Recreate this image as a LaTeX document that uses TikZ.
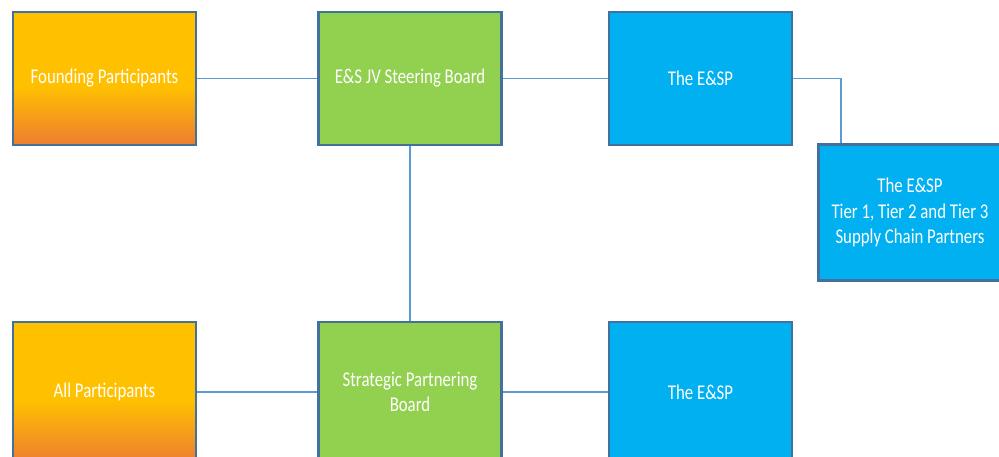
\documentclass[tikz,border=0pt]{standalone}
\usepackage{fontspec}
\setmainfont[FakeStretch=0.8]{Carlito}
\definecolor{boxedge}{HTML}{41719C}
\definecolor{linkblue}{HTML}{5B9BD5}
\definecolor{goldtop}{HTML}{FFC000}
\definecolor{orangebot}{HTML}{ED7D31}
\definecolor{leafgreen}{HTML}{92D050}
\definecolor{skyblue}{HTML}{00B0F0}
\pgfdeclareverticalshading{goldfade}{100bp}{color(0bp)=(orangebot); color(25bp)=(orangebot); color(47bp)=(goldtop); color(75bp)=(goldtop); color(100bp)=(goldtop)}
\tikzset{
  unit/.style={draw=boxedge, line width=2.6pt, minimum width=183pt, minimum height=133pt,
    inner sep=0pt, align=center, text=white, font=\fontsize{21}{25.5}\selectfont},
  partner/.style={unit, shading=goldfade},
  board/.style={unit, fill=leafgreen},
  delivery/.style={unit, fill=skyblue},
  link/.style={draw=linkblue, line width=1.5pt}
}
\begin{document}
\begin{tikzpicture}[x=1pt, y=-1pt]
\useasboundingbox (0,0) rectangle (999,457);
\clip (0,0) rectangle (999,457);
% top row
\node[partner]  (found)  at (104.5,78.5) {Founding Participants};
\node[board]    (steer)  at (410,78.5)   {E\&S JV Steering Board};
\node[delivery] (esp)    at (700.5,78.5) {The E\&SP};
\node[delivery, minimum height=136pt] (tiers) at (910,212.5)
  {The E\&SP\\Tier 1, Tier 2 and Tier 3\\Supply Chain Partners};
% bottom row, running past the lower edge
\node[partner, minimum height=140pt]  (allp) at (104.5,392) {All Participants};
\node[board, minimum height=140pt]    (spb)  at (410,392)   {Strategic Partnering\\Board};
\node[delivery, minimum height=140pt] (esp2) at (700.5,392) {The E\&SP};
% connectors
\coordinate (bend) at (841,78.5);
\draw[link] (found) -- (steer);
\draw[link] (steer) -- (esp);
\draw[link] (esp.east) -- (bend) -- (bend |- tiers.north);
\draw[link] (steer) -- (spb);
\draw[link] (allp) -- (spb);
\draw[link] (spb) -- (esp2);
\end{tikzpicture}
\end{document}
